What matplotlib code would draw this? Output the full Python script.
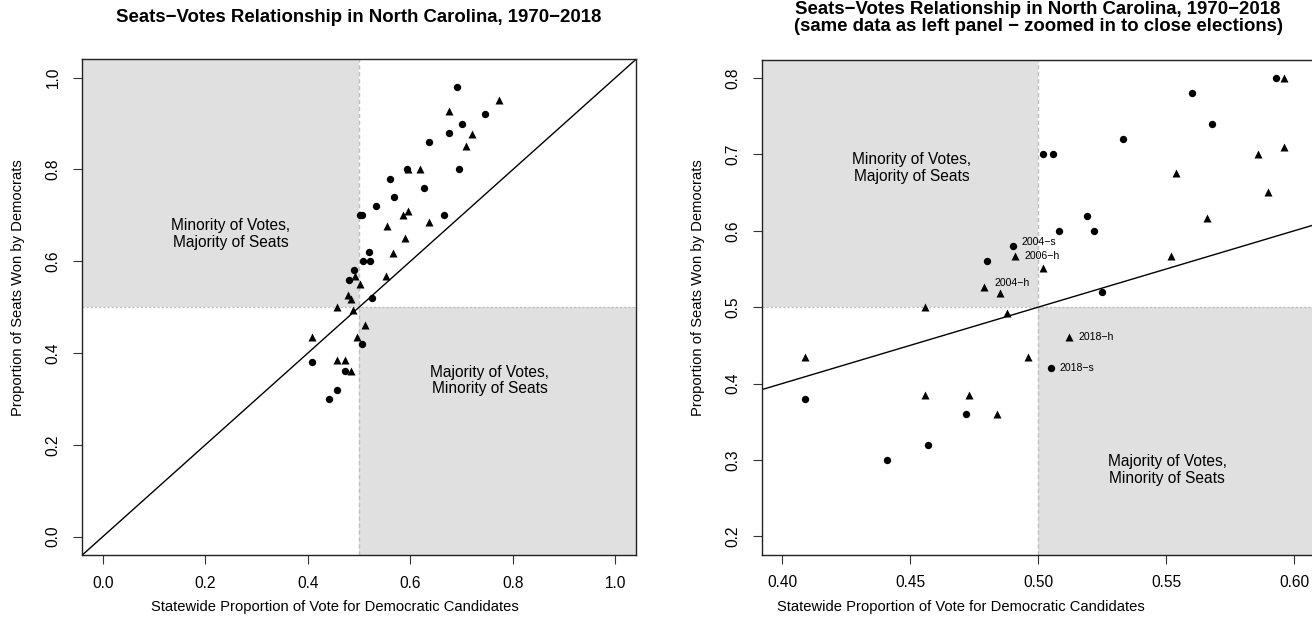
import matplotlib
matplotlib.use('Agg')
import matplotlib.pyplot as plt
from matplotlib.patches import Rectangle
from matplotlib.transforms import offset_copy

plt.rcParams['font.family'] = ['Liberation Sans', 'DejaVu Sans']

# ---- data ----
senate_votes = [0.691, 0.745, 0.701, 0.676, 0.636, 0.694, 0.627, 0.666,
                0.593, 0.560, 0.568, 0.533, 0.502, 0.506, 0.519, 0.508,
                0.522, 0.490, 0.525, 0.480, 0.409, 0.472, 0.457, 0.441, 0.505]
senate_seats = [0.98, 0.92, 0.90, 0.88, 0.86, 0.80, 0.76, 0.70,
                0.80, 0.78, 0.74, 0.72, 0.70, 0.70, 0.62, 0.60,
                0.60, 0.58, 0.52, 0.56, 0.38, 0.36, 0.32, 0.30, 0.42]

house_votes = [0.772, 0.675, 0.721, 0.709, 0.618, 0.636, 0.596, 0.586,
               0.596, 0.554, 0.590, 0.566, 0.491, 0.502, 0.552, 0.479,
               0.485, 0.456, 0.409, 0.456, 0.473, 0.484, 0.488, 0.512, 0.496]
house_seats = [0.951, 0.927, 0.877, 0.852, 0.80, 0.686, 0.80, 0.70,
               0.710, 0.676, 0.651, 0.617, 0.567, 0.551, 0.567, 0.526,
               0.518, 0.50, 0.435, 0.385, 0.385, 0.36, 0.493, 0.461, 0.435]

point_labels = ['2004\u2212s', '2006\u2212h', '2004\u2212h', '2018\u2212h', '2018\u2212s']
label_votes = [0.490, 0.491, 0.479, 0.512, 0.505]
label_seats = [0.58, 0.567, 0.526, 0.461, 0.42]

left_xticks = [0.0, 0.2, 0.4, 0.6, 0.8, 1.0]
left_yticks = [0.0, 0.2, 0.4, 0.6, 0.8, 1.0]
right_xticks = [0.40, 0.45, 0.50, 0.55, 0.60]
right_yticks = [0.2, 0.3, 0.4, 0.5, 0.6, 0.7, 0.8]

title_main = 'Seats\u2212Votes Relationship in North Carolina, 1970\u22122018'
title_sub = '(same data as left panel \u2212 zoomed in to close elections)'
xlab = 'Statewide Proportion of Vote for Democratic Candidates'
ylab = 'Proportion of Seats Won by Democrats'
txt_minority = 'Minority of Votes,\nMajority of Seats'
txt_majority = 'Majority of Votes,\nMinority of Seats'

# ---- layout ----
W, H = 1312, 634
fig = plt.figure(figsize=(W / 100, H / 100), dpi=100)


def rect(x0, x1, y0, y1):
    return [x0 / W, 1 - y1 / H, (x1 - x0) / W, (y1 - y0) / H]


axL = fig.add_axes(rect(82.3, 636.0, 59.3, 555.0))
axR = fig.add_axes(rect(761.7, 1314.5, 59.8, 554.6))

GRAY = '#E0E0E0'
DOT = '#BEBEBE'
TICK_FS = 11.2
LAB_FS = 10.6


def panel(ax, xlim, ylim, xticks, yticks, xfmt, yfmt, txt_pos):
    ax.set_xlim(xlim)
    ax.set_ylim(ylim)
    ax.add_patch(Rectangle((xlim[0], 0.5), 0.5 - xlim[0], ylim[1] - 0.5,
                           facecolor=GRAY, edgecolor='none', zorder=0))
    ax.add_patch(Rectangle((0.5, ylim[0]), xlim[1] - 0.5, 0.5 - ylim[0],
                           facecolor=GRAY, edgecolor='none', zorder=0))
    ax.axvline(0.5, color=DOT, ls=(0, (3, 2)), lw=1, zorder=1)
    ax.axhline(0.5, color=DOT, ls=(0, (1.5, 1.5)), lw=1, zorder=1)
    ax.axline((0, 0), (1, 1), color='black', lw=1, zorder=2)
    ax.plot(senate_votes, senate_seats, 'o', ms=5.3, color='black',
            mec='none', zorder=3, clip_on=True)
    ax.plot(house_votes, house_seats, '^', ms=6.4, color='black',
            mec='none', zorder=3, clip_on=True)
    ax.set_xticks(xticks)
    ax.set_xticklabels([xfmt.format(v) for v in xticks])
    ax.set_yticks(yticks)
    ax.set_yticklabels([yfmt.format(v) for v in yticks])
    ax.tick_params(axis='both', direction='out', length=6.5, width=0.8,
                   color='#333333', labelsize=TICK_FS)
    ax.tick_params(axis='x', pad=8.5)
    ax.tick_params(axis='y', pad=9)
    for lab in ax.get_yticklabels():
        lab.set_rotation(90)
        lab.set_va('center')
    for s in ax.spines.values():
        s.set_linewidth(1.0)
        s.set_color('#222222')
    (p1, p2) = txt_pos
    ax.text(p1[0], p1[1], txt_minority, ha='center', va='center',
            fontsize=TICK_FS, linespacing=1.15, zorder=4)
    ax.text(p2[0], p2[1], txt_majority, ha='center', va='center',
            fontsize=TICK_FS, linespacing=1.15, zorder=4)


panel(axL, (-0.04, 1.04), (-0.04, 1.04), left_xticks, left_yticks,
      '{:.1f}', '{:.1f}', ((0.25, 0.66), (0.755, 0.34)))
panel(axR, (0.392, 0.608), (0.176, 0.824), right_xticks, right_yticks,
      '{:.2f}', '{:.1f}', ((0.4505, 0.6825), (0.5505, 0.287)))

# point labels in the right panel
offsets_px = [(9.4, 4), (9.3, 0), (10, 4), (10, 0), (8.6, 0)]
for t, xv, yv, (dx, dy) in zip(point_labels, label_votes, label_seats, offsets_px):
    tr = offset_copy(axR.transData, fig=fig, x=dx * 0.72, y=dy * 0.72, units='points')
    axR.text(xv, yv, t, transform=tr, ha='left', va='center', fontsize=7.6, zorder=5)


# titles and axis labels
def ftext(x, y, s, **kw):
    fig.text(x / W, 1 - y / H, s, ha='center', va='center', **kw)


ftext(359, 18, title_main, fontsize=13.4, fontweight='bold')
ftext(1038, 9.5, title_main, fontsize=13.4, fontweight='bold')
ftext(1038, 26.5, title_sub, fontsize=13.4, fontweight='bold')
ftext(335, 607, xlab, fontsize=LAB_FS)
ftext(961, 607, xlab, fontsize=LAB_FS)
ftext(18.3, 287.5, ylab, fontsize=LAB_FS, rotation=90)
ftext(697.7, 287.5, ylab, fontsize=LAB_FS, rotation=90)

fig.savefig('out.png', dpi=100)
